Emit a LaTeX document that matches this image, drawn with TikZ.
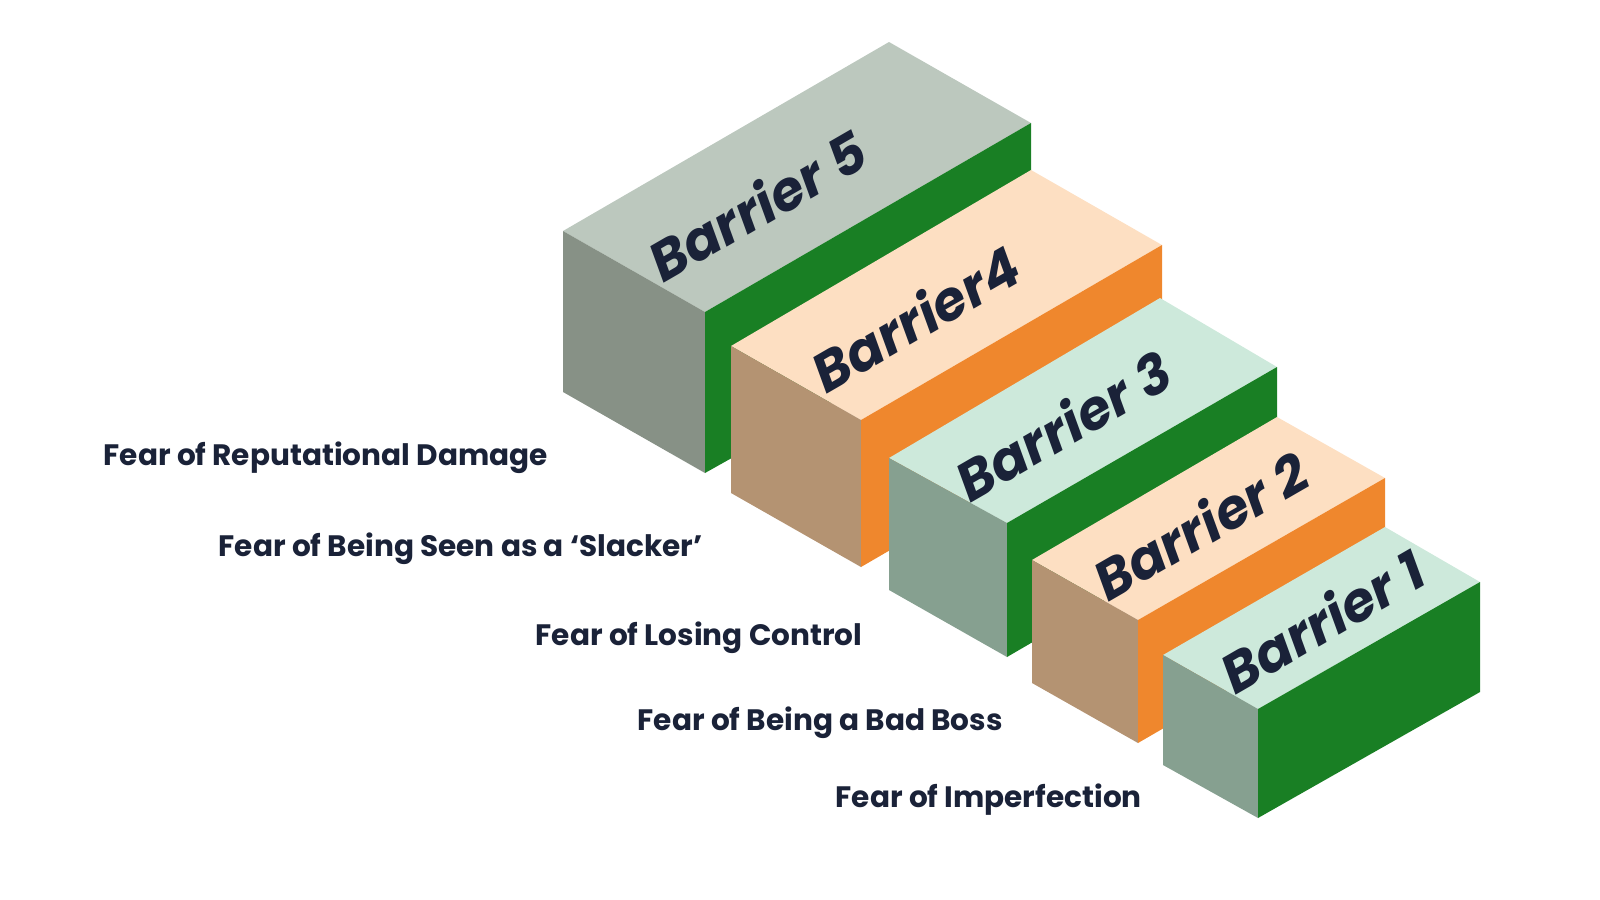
\documentclass[tikz,border=0pt]{standalone}
\usepackage{fontspec}
\setmainfont{Poppins}
\definecolor{navy}{HTML}{1A2238}
\definecolor{gtop}{HTML}{BCC8BE}\definecolor{gleft}{HTML}{879186}
\definecolor{dgreen}{HTML}{197F24}
\definecolor{otop}{HTML}{FDDFC2}\definecolor{oleft}{HTML}{B49372}\definecolor{orng}{HTML}{EF872D}
\definecolor{mtop}{HTML}{CDE9DB}\definecolor{mleft}{HTML}{86A090}
\begin{document}
\begin{tikzpicture}[x=0.01cm,y=-0.01cm,
  lbl/.style={anchor=west,text=navy,font=\fontsize{8.4pt}{10pt}\selectfont\bfseries,inner sep=0},
  bar/.style={text=navy,font=\fontsize{15.5pt}{18pt}\selectfont\bfseries\itshape,rotate=30,inner sep=0}]
\useasboundingbox (0,0) rectangle (1600,900);
% Block 5
\fill[gtop] (563,231) -- (705,312) -- (1031,123) -- (889,42) -- cycle;
\fill[gleft] (563,231) -- (705,312) -- (705,473) -- (563,392) -- cycle;
\fill[dgreen] (705,312) -- (1031,123) -- (1031,290) -- (705,473) -- cycle;
% Block 4
\fill[otop] (731,346) -- (861,420) -- (1162,245) -- (1031,170) -- cycle;
\fill[oleft] (731,346) -- (861,420) -- (861,567) -- (731,493) -- cycle;
\fill[orng] (861,420) -- (1162,245) -- (1162,392) -- (861,567) -- cycle;
% Block 3
\fill[mtop] (889,458) -- (1007,523) -- (1277,367) -- (1160,298) -- cycle;
\fill[mleft] (889,458) -- (1007,523) -- (1007,657) -- (889,590) -- cycle;
\fill[dgreen] (1007,523) -- (1277,367) -- (1277,500) -- (1007,657) -- cycle;
% Block 2
\fill[otop] (1032,560) -- (1138,620) -- (1385,478) -- (1277,417) -- cycle;
\fill[oleft] (1032,560) -- (1138,620) -- (1138,743) -- (1032,683) -- cycle;
\fill[orng] (1138,620) -- (1385,478) -- (1385,600) -- (1138,743) -- cycle;
% Block 1
\fill[mtop] (1163,655) -- (1258,709) -- (1480,582) -- (1385,527) -- cycle;
\fill[mleft] (1163,655) -- (1258,709) -- (1258,818) -- (1163,765) -- cycle;
\fill[dgreen] (1258,709) -- (1480,582) -- (1480,692) -- (1258,818) -- cycle;
% Barrier texts
\node[bar] (b5) at (757,205) {Barrier 5};
\node[bar] (b4) at (915,318) {Barrier4};
\node[bar] (b3) at (1063,425) {Barrier 3};
\node[bar] (b2) at (1200,525) {Barrier 2};
\node[bar] (b1) at (1322,620) {Barrier 1};
% Labels
\node[lbl] (l5) at (103,458) {Fear of Reputational Damage};
\node[lbl] (l4) at (218,549) {Fear of Being Seen as a ‘Slacker’};
\node[lbl] (l3) at (535,638) {Fear of Losing Control};
\node[lbl] (l2) at (637,723) {Fear of Being a Bad Boss};
\node[lbl] (l1) at (835,800) {Fear of Imperfection};
\end{tikzpicture}
\end{document}
